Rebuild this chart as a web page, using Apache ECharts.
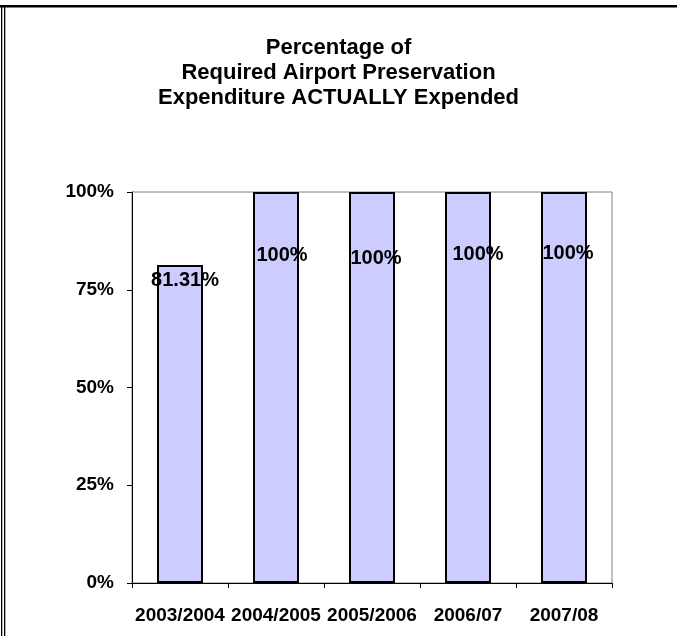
<!DOCTYPE html>
<html>
<head>
<meta charset="utf-8">
<title>Percentage of Required Airport Preservation Expenditure ACTUALLY Expended</title>
<script src="https://cdn.jsdelivr.net/npm/echarts@6/dist/echarts.min.js"></script>
<style>
  html, body { margin: 0; padding: 0; background: #ffffff; }
  #chart { width: 677px; height: 636px; }
</style>
</head>
<body>
<div id="chart"></div>
<script>
// Fiscal years on the category axis
const years = ['2003/2004', '2004/2005', '2005/2006', '2006/07', '2007/08'];
// Share of required preservation spending actually spent, in percent
const expendedPct = [81.31, 100, 100, 100, 100];
// Value axis ticks
const yTicks = [0, 25, 50, 75, 100];
// Nudges for the data labels, [dx, dy] in pixels
const labelNudges = [[5, 0], [6, 48], [4, 51], [10, 47], [4, 46]];

const FONT = "'Liberation Sans', Arial, sans-serif";

const chart = echarts.init(document.getElementById('chart'), null, { renderer: 'canvas' });

chart.setOption({
  backgroundColor: '#ffffff',
  animation: false,
  title: {
    text: 'Percentage of\nRequired Airport Preservation\nExpenditure ACTUALLY Expended',
    left: 'center',
    top: 30,
    textStyle: {
      fontFamily: FONT,
      fontSize: 22,
      fontWeight: 'bold',
      color: '#000000',
      lineHeight: 25
    }
  },
  grid: {
    left: 132,
    top: 192,
    width: 480,
    height: 391,
    show: true,
    borderColor: '#808080',
    borderWidth: 1,
    backgroundColor: '#ffffff'
  },
  xAxis: {
    type: 'category',
    data: years,
    boundaryGap: true,
    axisLine: { show: true, lineStyle: { color: '#000000', width: 1 } },
    axisTick: { show: true, inside: false, length: 5, lineStyle: { color: '#000000' } },
    axisLabel: {
      interval: 0,
      hideOverlap: false,
      margin: 23,
      fontFamily: FONT,
      fontSize: 19,
      fontWeight: 'bold',
      color: '#000000'
    },
    splitLine: { show: false }
  },
  yAxis: {
    type: 'value',
    min: yTicks[0],
    max: yTicks[yTicks.length - 1],
    interval: yTicks[1] - yTicks[0],
    axisLine: { show: true, lineStyle: { color: '#000000', width: 1 } },
    axisTick: { show: true, inside: false, length: 5, lineStyle: { color: '#000000' } },
    axisLabel: {
      margin: 18,
      fontFamily: FONT,
      fontSize: 19,
      fontWeight: 'bold',
      color: '#000000',
      formatter: v => v + '%'
    },
    splitLine: { show: false }
  },
  series: [{
    type: 'bar',
    barWidth: 46,
    data: expendedPct.map((v, i) => ({
      value: v,
      label: { offset: labelNudges[i] }
    })),
    itemStyle: {
      color: '#ccccff',
      borderColor: '#000000',
      borderWidth: 2
    },
    label: {
      show: true,
      position: 'insideTop',
      distance: 5,
      fontFamily: FONT,
      fontSize: 20,
      fontWeight: 'bold',
      color: '#000000',
      formatter: p => p.value + '%'
    }
  }],
  graphic: [
    // Frame: heavy rule across the top, double rule down the left side
    { type: 'rect', shape: { x: 0, y: 5, width: 677, height: 2.5 }, style: { fill: '#000000' }, silent: true },
    { type: 'rect', shape: { x: 1, y: 5, width: 1.3, height: 631 }, style: { fill: '#000000' }, silent: true },
    { type: 'rect', shape: { x: 4, y: 5, width: 1.3, height: 631 }, style: { fill: '#000000' }, silent: true }
  ]
});
</script>
</body>
</html>
